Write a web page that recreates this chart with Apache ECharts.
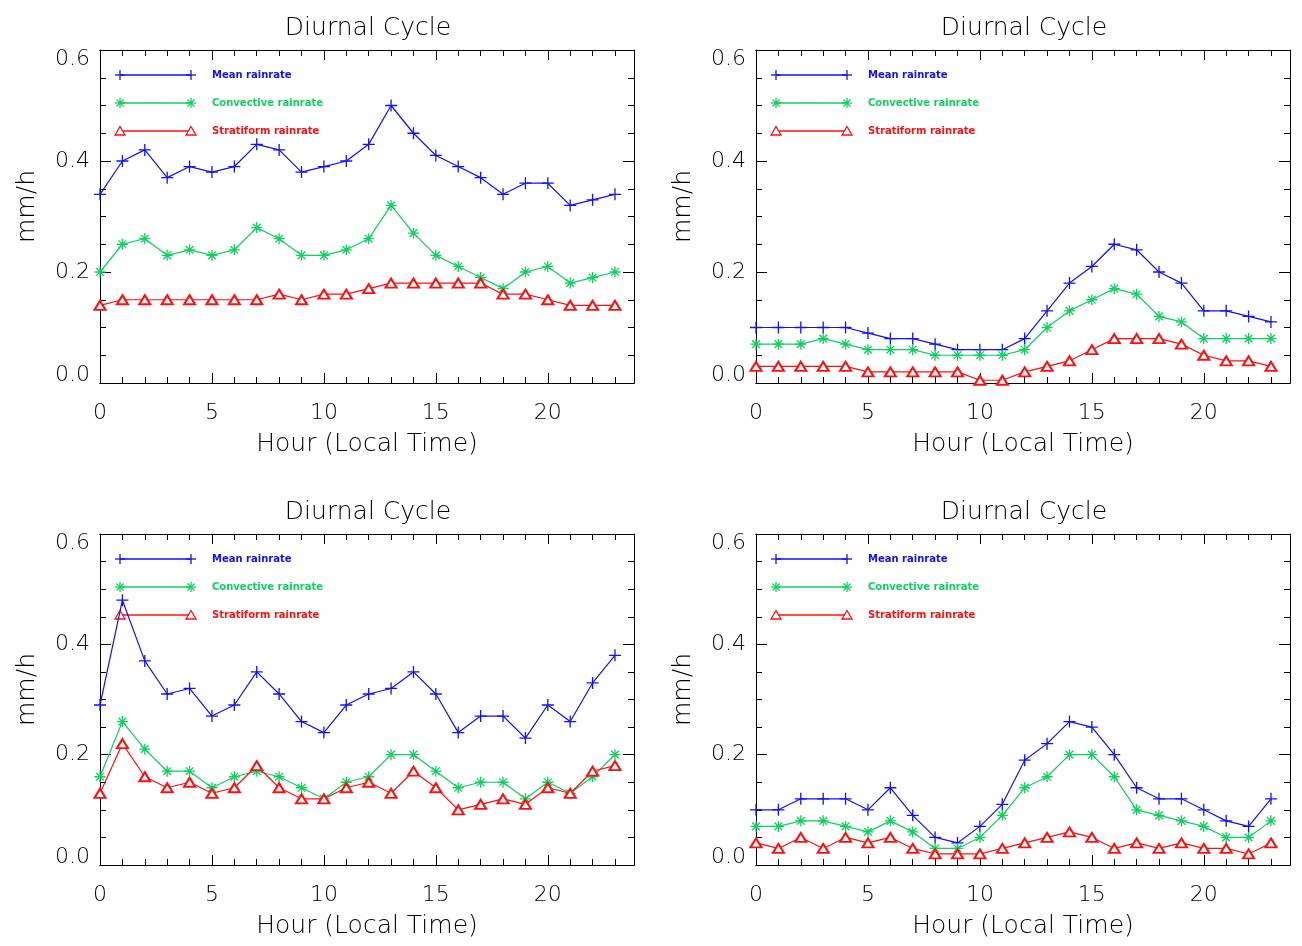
<!DOCTYPE html>
<html>
<head>
<meta charset="utf-8">
<script src="https://cdn.jsdelivr.net/npm/echarts@6/dist/echarts.min.js"></script>
<style>
html,body{margin:0;padding:0;background:#fff;}
#chart{width:1302px;height:946px;}
</style>
</head>
<body>
<div id="chart"></div>
<script>
// ---------- data ----------
const hours = [0,1,2,3,4,5,6,7,8,9,10,11,12,13,14,15,16,17,18,19,20,21,22,23];
const xTickLabels = ['0','5','10','15','20'];
const yTickLabels = ['0.0','0.2','0.4','0.6'];
const seriesNames = ['Mean rainrate','Convective rainrate','Stratiform rainrate'];
const panelTitle = 'Diurnal Cycle';
const xAxisTitle = 'Hour (Local Time)';
const yAxisTitle = 'mm/h';

// top-left panel
const mean1  = [0.34,0.40,0.42,0.37,0.39,0.38,0.39,0.43,0.42,0.38,0.39,0.40,0.43,0.50,0.45,0.41,0.39,0.37,0.34,0.36,0.36,0.32,0.33,0.34];
const conv1  = [0.20,0.25,0.26,0.23,0.24,0.23,0.24,0.28,0.26,0.23,0.23,0.24,0.26,0.32,0.27,0.23,0.21,0.19,0.17,0.20,0.21,0.18,0.19,0.20];
const strat1 = [0.14,0.15,0.15,0.15,0.15,0.15,0.15,0.15,0.16,0.15,0.16,0.16,0.17,0.18,0.18,0.18,0.18,0.18,0.16,0.16,0.15,0.14,0.14,0.14];
// top-right panel
const mean2  = [0.10,0.10,0.10,0.10,0.10,0.09,0.08,0.08,0.07,0.06,0.06,0.06,0.08,0.13,0.18,0.21,0.25,0.24,0.20,0.18,0.13,0.13,0.12,0.11];
const conv2  = [0.07,0.07,0.07,0.08,0.07,0.06,0.06,0.06,0.05,0.05,0.05,0.05,0.06,0.10,0.13,0.15,0.17,0.16,0.12,0.11,0.08,0.08,0.08,0.08];
const strat2 = [0.03,0.03,0.03,0.03,0.03,0.02,0.02,0.02,0.02,0.02,0.005,0.005,0.02,0.03,0.04,0.06,0.08,0.08,0.08,0.07,0.05,0.04,0.04,0.03];
// bottom-left panel
const mean3  = [0.29,0.48,0.37,0.31,0.32,0.27,0.29,0.35,0.31,0.26,0.24,0.29,0.31,0.32,0.35,0.31,0.24,0.27,0.27,0.23,0.29,0.26,0.33,0.38];
const conv3  = [0.16,0.26,0.21,0.17,0.17,0.14,0.16,0.17,0.16,0.14,0.12,0.15,0.16,0.20,0.20,0.17,0.14,0.15,0.15,0.12,0.15,0.13,0.16,0.20];
const strat3 = [0.13,0.22,0.16,0.14,0.15,0.13,0.14,0.18,0.14,0.12,0.12,0.14,0.15,0.13,0.17,0.14,0.10,0.11,0.12,0.11,0.14,0.13,0.17,0.18];
// bottom-right panel
const mean4  = [0.10,0.10,0.12,0.12,0.12,0.10,0.14,0.09,0.05,0.04,0.07,0.11,0.19,0.22,0.26,0.25,0.20,0.14,0.12,0.12,0.10,0.08,0.07,0.12];
const conv4  = [0.07,0.07,0.08,0.08,0.07,0.06,0.08,0.06,0.03,0.03,0.05,0.09,0.14,0.16,0.20,0.20,0.16,0.10,0.09,0.08,0.07,0.05,0.05,0.08];
const strat4 = [0.04,0.03,0.05,0.03,0.05,0.04,0.05,0.03,0.02,0.02,0.02,0.03,0.04,0.05,0.06,0.05,0.03,0.04,0.03,0.04,0.03,0.03,0.02,0.04];

// ---------- style / layout ----------
const BLUE = '#1010ff', GREEN = '#10d060', RED = '#ff1010';
const COLORS = [BLUE, GREEN, RED];
const FONT = "'DejaVu Sans', sans-serif";
const FW = 200;
const TXT = '#000';
const X_MAX = 23.85;
const W = 534;
const PLUS = 'path://M0,5L10,5M5,0L5,10';
const STAR = 'path://M0,5L10,5M5,0L5,10M1.5,1.5L8.5,8.5M8.5,1.5L1.5,8.5';
const panels = [
  {left:100, top:50,  height:333, data:[mean1, conv1, strat1]},
  {left:756, top:50,  height:333, data:[mean2, conv2, strat2]},
  {left:100, top:534, height:331, data:[mean3, conv3, strat3]},
  {left:756, top:534, height:331, data:[mean4, conv4, strat4]}
];

const option = {
  animation:false,
  backgroundColor:'#fff',
  title:[], grid:[], xAxis:[], yAxis:[], series:[], graphic:[]
};

function markerShapes(kind, cx, cy, color){
  const s = 5, out = [];
  const ln = (x1,y1,x2,y2)=>({type:'line', silent:true, shape:{x1,y1,x2,y2}, style:{stroke:color, lineWidth:1.3}});
  if (kind === 0){
    out.push(ln(cx-s,cy,cx+s,cy), ln(cx,cy-s,cx,cy+s));
  } else if (kind === 1){
    out.push(ln(cx-s,cy,cx+s,cy), ln(cx,cy-s,cx,cy+s), ln(cx-3.5,cy-3.5,cx+3.5,cy+3.5), ln(cx+3.5,cy-3.5,cx-3.5,cy+3.5));
  } else {
    out.push({type:'polygon', silent:true, shape:{points:[[cx,cy-4.5],[cx+5,cy+4],[cx-5,cy+4]]}, style:{fill:'#fff', stroke:color, lineWidth:1.3}});
  }
  return out;
}

panels.forEach((p, g) => {
  option.title.push({
    text: panelTitle, left: p.left + W/2 - 4, top: p.top - 39, textAlign:'center',
    textStyle:{fontFamily:FONT, fontSize:25, fontWeight:FW, color:TXT}
  });
  option.grid.push({left:p.left, top:p.top, width:W, height:p.height});

  const axLine = {show:true, onZero:false, lineStyle:{color:'#000', width:1}};
  const xCommon = {type:'value', gridIndex:g, min:0, max:X_MAX, axisLine:axLine, splitLine:{show:false}};
  // bottom major with labels
  option.xAxis.push(Object.assign({}, xCommon, {
    position:'bottom', interval:5,
    axisTick:{show:true, inside:true, length:10, lineStyle:{color:'#000'}},
    axisLabel:{show:true, margin:19, fontFamily:FONT, fontSize:22, fontWeight:FW, color:TXT,
      formatter: v => (Math.abs(v/5 - Math.round(v/5)) < 1e-6 ? (xTickLabels[Math.round(v/5)] || '') : '')},
    name:xAxisTitle, nameLocation:'middle', nameGap:49,
    nameTextStyle:{fontFamily:FONT, fontSize:25, fontWeight:FW, color:TXT}
  }));
  // bottom minor
  option.xAxis.push(Object.assign({}, xCommon, {
    position:'bottom', interval:1,
    axisTick:{show:true, inside:true, length:6, lineStyle:{color:'#000'}}, axisLabel:{show:false}
  }));
  // top major
  option.xAxis.push(Object.assign({}, xCommon, {
    position:'top', interval:5,
    axisTick:{show:true, inside:true, length:10, lineStyle:{color:'#000'}}, axisLabel:{show:false}
  }));
  // top minor
  option.xAxis.push(Object.assign({}, xCommon, {
    position:'top', interval:1,
    axisTick:{show:true, inside:true, length:6, lineStyle:{color:'#000'}}, axisLabel:{show:false}
  }));

  const yCommon = {type:'value', gridIndex:g, min:0, max:0.6, interval:0.2, axisLine:axLine,
    splitLine:{show:false}, minorSplitLine:{show:false},
    axisTick:{show:true, inside:true, length:11, lineStyle:{color:'#000'}},
    minorTick:{show:true, splitNumber:4, length:6, lineStyle:{color:'#000'}}};
  option.yAxis.push(Object.assign({}, yCommon, {
    position:'left',
    axisLabel:{show:true, margin:10, fontFamily:FONT, fontSize:22, fontWeight:FW, color:TXT,
      formatter: v => {
        const i = Math.round(v/0.2);
        const t = yTickLabels[i] || '';
        if (i === 0) return '{lo|' + t + '}';
        if (i === yTickLabels.length - 1) return '{hi|' + t + '}';
        return t;
      },
      rich:{
        lo:{fontFamily:FONT, fontSize:22, fontWeight:FW, color:TXT, padding:[0,0,16,0]},
        hi:{fontFamily:FONT, fontSize:22, fontWeight:FW, color:TXT, padding:[18,0,0,0]}
      }
    },
    name:yAxisTitle, nameLocation:'middle', nameGap:60, nameRotate:90,
    nameTextStyle:{fontFamily:FONT, fontSize:25, fontWeight:FW, color:TXT, padding:[0,0,0,20]}
  }));
  option.yAxis.push(Object.assign({}, yCommon, {position:'right', axisLabel:{show:false}}));

  const symbols = [PLUS, STAR, 'emptyTriangle'];
  const sizes = [12, 11, [11, 9]];
  p.data.forEach((vals, k) => {
    const c = COLORS[k];
    option.series.push({
      type:'line', name:seriesNames[k], xAxisIndex:4*g, yAxisIndex:2*g,
      data: hours.map((h, i) => [h, vals[i]]),
      symbol: symbols[k], symbolSize: sizes[k], showAllSymbol:true,
      lineStyle:{color:c, width:1.2},
      itemStyle:{color:c, borderColor:c, borderWidth:1.3},
      z: 3 + k
    });
    // legend row
    const y = p.top + 25 + 28*k;
    const x0 = p.left + 20, x1 = p.left + 91;
    option.graphic.push({type:'line', silent:true, shape:{x1:x0, y1:y, x2:x1, y2:y}, style:{stroke:c, lineWidth:1.3}});
    markerShapes(k, x0, y, c).forEach(e => option.graphic.push(e));
    markerShapes(k, x1, y, c).forEach(e => option.graphic.push(e));
    option.graphic.push({type:'text', silent:true, x:p.left + 112, y:y, style:{text:seriesNames[k], fill:c,
      font:"bold 10px 'DejaVu Sans', sans-serif", textVerticalAlign:'middle', verticalAlign:'middle'}});
  });
});

const chart = echarts.init(document.getElementById('chart'), null, {renderer:'canvas'});
chart.setOption(option);
</script>
</body>
</html>
